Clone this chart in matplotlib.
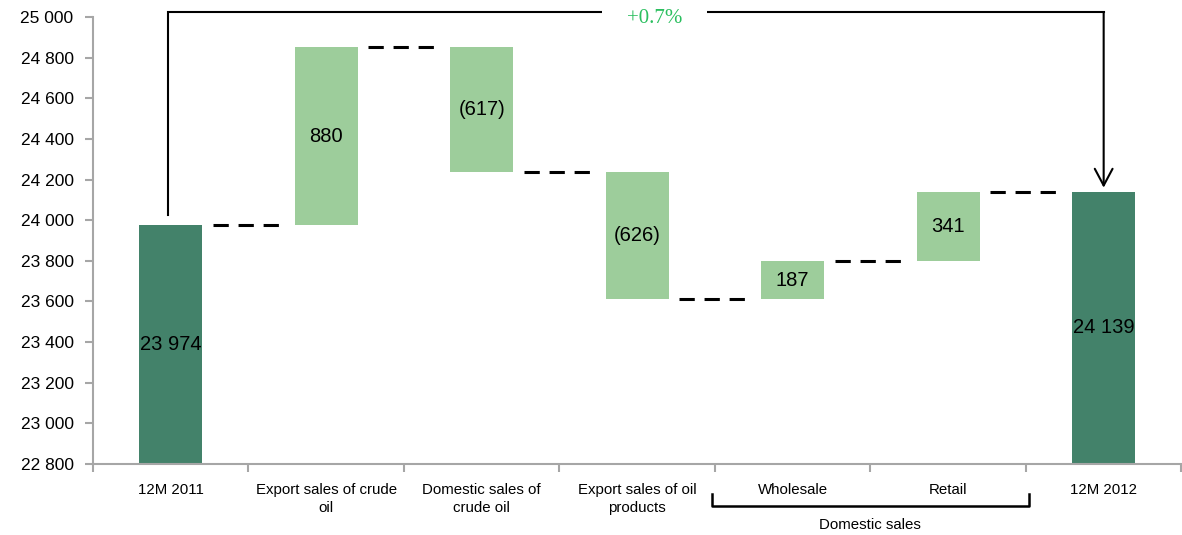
import numpy as np
import matplotlib
matplotlib.use('Agg')
import matplotlib.pyplot as plt
import matplotlib.transforms as mtransforms

plt.rcParams['font.family'] = ['Liberation Sans', 'DejaVu Sans']

# данные
categories = ['12M 2011', 'Export sales of crude\noil', 'Domestic sales of\ncrude oil',
              'Export sales of oil\nproducts', 'Wholesale', 'Retail', '12M 2012']
start_value = 23974
changes = [880, -617, -626, 187, 341]
end_value = 24139
growth_label = '+0.7%'
group_label = 'Domestic sales'
y_ticks = np.arange(22800, 25001, 200)

dark_green = '#43826a'
light_green = '#9dcd9b'
spine_gray = '#a6a6a6'


def fmt(v):
    return f'{v:,}'.replace(',', ' ')


ymin, ymax = 22800, 25000

fig = plt.figure(figsize=(11.82, 5.35), dpi=100)
ax = fig.add_axes([93 / 1182, 1 - 464 / 535, 1 - 93 / 1182 - 0.0005, (464 - 17) / 535])

n = len(categories)
x = np.arange(n)
w = 0.405

# накопленные уровни
levels = [start_value]
for c in changes:
    levels.append(levels[-1] + c)

# итоговые столбцы
for i, v in [(0, start_value), (n - 1, end_value)]:
    ax.bar(i, v - ymin, bottom=ymin, width=w, color=dark_green, zorder=2)
    ax.text(i, (ymin + v) / 2, fmt(v), ha='center', va='center', fontsize=14.5, zorder=3)

# промежуточные изменения
for k, c in enumerate(changes):
    i = k + 1
    lo = min(levels[k], levels[k + 1])
    ax.bar(i, abs(c), bottom=lo, width=w, color=light_green, zorder=2)
    lab = fmt(c) if c > 0 else f'({fmt(-c)})'
    ax.text(i, lo + abs(c) / 2, lab, ha='center', va='center', fontsize=14.5, zorder=3)

# пунктирные соединители
for i, lev in enumerate(levels):
    ax.plot([i + 0.27, i + 0.73], [lev, lev], color='black', lw=2.2,
            dashes=(5, 3.2), zorder=2)

# стрелка сверху
top = 25024
ax.plot([-0.02, -0.02, n - 1], [24026, top, top], color='black', lw=1.5,
        clip_on=False, zorder=4, solid_joinstyle='miter')
ax.annotate('', xy=(n - 1, 24160), xytext=(n - 1, top),
            arrowprops=dict(arrowstyle='->,head_length=0.6,head_width=0.32',
                            mutation_scale=20, color='black', lw=1.5,
                            shrinkA=0, shrinkB=0),
            annotation_clip=False, zorder=4)
ax.text(3.11, 24995, growth_label, ha='center', va='center', fontsize=15,
        family=['Liberation Serif', 'DejaVu Serif'], color='#2bbf5f',
        bbox=dict(facecolor='white', edgecolor='none', boxstyle='square,pad=1.2'),
        zorder=5, clip_on=False)

# оси
ax.set_xlim(-0.5, n - 0.5)
ax.set_ylim(ymin, ymax)
ax.set_yticks(y_ticks)
ax.set_yticklabels([fmt(v) for v in y_ticks], fontsize=12.5)
ax.set_xticks(np.arange(n + 1) - 0.5)
ax.set_xticklabels([])
ax.set_xticks(x, minor=True)
ax.set_xticklabels(categories, minor=True, fontsize=10.8, linespacing=1.35)
ax.tick_params(axis='x', which='major', length=6, width=1.5, color=spine_gray, direction='out')
ax.tick_params(axis='x', which='minor', length=0, pad=14)
ax.tick_params(axis='y', length=6, width=1.5, color=spine_gray, pad=8)

for s in ['top', 'right']:
    ax.spines[s].set_visible(False)
for s in ['left', 'bottom']:
    ax.spines[s].set_color(spine_gray)
    ax.spines[s].set_linewidth(1.5)

# скобка для группы
trans = mtransforms.blended_transform_factory(ax.transData, ax.transAxes)
ax.plot([3.48, 3.48, 5.52, 5.52], [-0.066, -0.094, -0.094, -0.066], color='black',
        lw=1.8, transform=trans, clip_on=False)
ax.text(4.5, -0.136, group_label, ha='center', va='center', fontsize=10.8,
        transform=trans)

fig.savefig('out.png', dpi=100)
